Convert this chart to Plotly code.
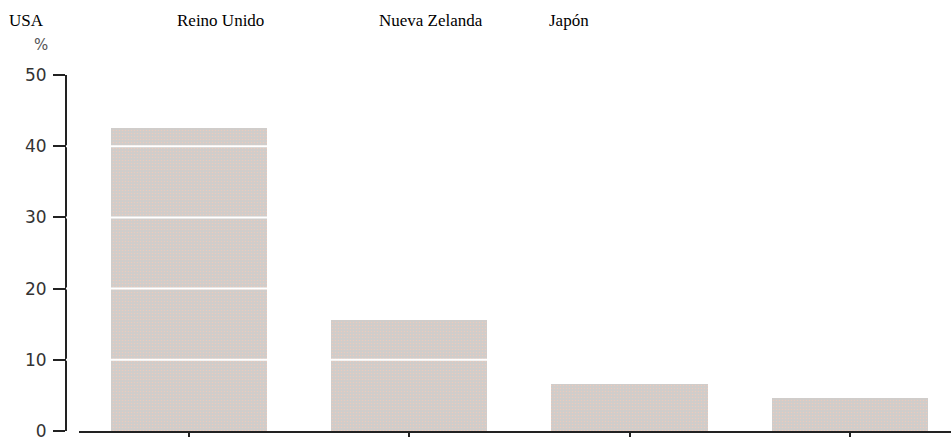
import plotly.graph_objects as go

# data
categories = ["USA", "Reino Unido", "Nueva Zelanda", "Japón"]
values = [42.5, 15.6, 6.6, 4.7]
y_ticks = [0, 10, 20, 30, 40, 50]
grid_levels = [10, 20, 30, 40]

# where the (misplaced) category names sit along the top, in pixels
label_x_px = [7, 175, 377, 547]

W, H = 951, 437
L, R, T, B = 66, 0, 75, 6
plot_w = W - L - R
plot_h = H - T - B

fig = go.Figure()
fig.add_trace(go.Bar(
    x=categories,
    y=values,
    width=0.71,
    marker=dict(
        color="#cfcdcb",
        line=dict(width=0),
        pattern=dict(shape=".", fgcolor="#eacbbd", bgcolor="#cfcdcb",
                     size=3, solidity=0.22, fillmode="replace"),
    ),
    hoverinfo="x+y",
))

# white grid lines painted over the bars
for g in grid_levels:
    fig.add_shape(type="line", xref="paper", yref="y", x0=0, x1=1, y0=g, y1=g,
                  line=dict(color="white", width=2), layer="above")

for name, px_ in zip(categories, label_x_px):
    fig.add_annotation(text=name, x=(px_ - L) / plot_w, y=1 + (T - 21) / plot_h,
                       xref="paper", yref="paper", xanchor="left", yanchor="middle",
                       showarrow=False, font=dict(family="Liberation Serif", size=17, color="#000"))

fig.add_annotation(text="%", x=(41 - L) / plot_w, y=1 + (T - 45) / plot_h,
                   xref="paper", yref="paper", xanchor="center", yanchor="middle",
                   showarrow=False, font=dict(family="DejaVu Sans", size=15, color="#555"))

x_start = 13 / plot_w
fig.update_layout(
    width=W, height=H,
    margin=dict(l=L, r=R, t=T, b=B, autoexpand=False),
    plot_bgcolor="white",
    paper_bgcolor="white",
    showlegend=False,
    bargap=0,
    xaxis=dict(
        domain=[x_start, 1],
        range=[-0.5, 3.46],
        automargin=False,
        showline=True, linecolor="#222", linewidth=2,
        ticks="outside", ticklen=7, tickwidth=2, tickcolor="#222",
        showticklabels=False, showgrid=False, zeroline=False,
    ),
    yaxis=dict(
        anchor="free", position=0,
        range=[0, 50],
        tickvals=y_ticks,
        automargin=False,
        showline=True, linecolor="#222", linewidth=2,
        ticks="outside", ticklen=12, tickwidth=2, tickcolor="#222",
        ticklabelstandoff=3, ticklabeloverflow="allow",
        tickfont=dict(family="DejaVu Sans", size=17, color="#333"),
        showgrid=False, zeroline=False,
    ),
)

# drop the browser's default body margin so the figure sits at 0,0
fig.write_html("out.html", config={"displayModeBar": False},
               post_script="document.body.style.margin='0';")
